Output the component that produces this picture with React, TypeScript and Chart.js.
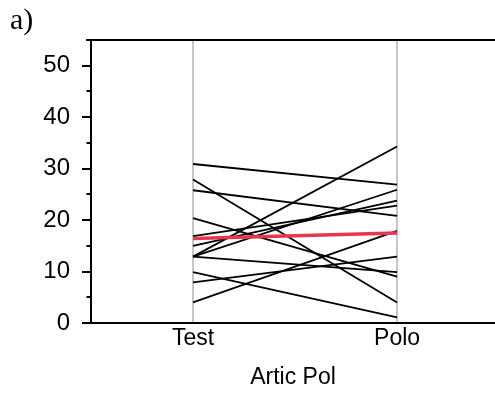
import React, { useEffect, useRef } from "react";
import { Chart, registerables } from "chart.js";

Chart.register(...registerables);

const categories = ["Test", "Polo"];
const testValues = [30.9, 27.9, 25.8, 20.4, 16.9, 15.0, 12.9, 12.9, 12.9, 9.9, 7.9, 4.0];
const poloValues = [26.9, 4.0, 20.8, 9.0, 22.8, 23.8, 25.9, 34.3, 9.9, 1.1, 12.9, 17.9];
const meanTest = 16.4;
const meanPolo = 17.5;
const yTicks = [0, 5, 10, 15, 20, 25, 30, 35, 40, 45, 50];
const axisTitle = "Artic Pol";
const panelLabel = "a)";

const FONT = "'Liberation Sans', Arial, sans-serif";

const axisDecor = {
  id: "axisDecor",
  afterDraw(chart: any) {
    const { ctx, chartArea, scales } = chart;
    const y = scales.y;
    ctx.save();
    ctx.strokeStyle = "#000";
    ctx.lineWidth = 2;
    ctx.beginPath();
    for (const v of yTicks) {
      const py = Math.round(y.getPixelForValue(v));
      const len = v % 10 === 0 ? 9 : 4.5;
      ctx.moveTo(chartArea.left - len, py);
      ctx.lineTo(chartArea.left, py);
    }
    ctx.moveTo(chartArea.left - 5, chartArea.top);
    ctx.lineTo(chartArea.right, chartArea.top);
    ctx.stroke();
    ctx.restore();
  },
};

export default function App() {
  const ref = useRef<HTMLCanvasElement>(null);
  useEffect(() => {
    if (!ref.current) return;
    const datasets: any[] = testValues.map((t, i) => ({
      data: [
        { x: 1, y: t },
        { x: 2, y: poloValues[i] },
      ],
      borderColor: "#000",
      borderWidth: 1.8,
      pointRadius: 0,
      fill: false,
    }));
    datasets.push({
      data: [
        { x: 1, y: meanTest },
        { x: 2, y: meanPolo },
      ],
      borderColor: "#e8364c",
      borderWidth: 3.5,
      pointRadius: 0,
      fill: false,
      order: -1,
    });
    const chart = new Chart(ref.current, {
      type: "line",
      data: { datasets },
      plugins: [axisDecor],
      options: {
        animation: false,
        responsive: false,
        layout: { padding: { top: 40, left: 0, right: 0, bottom: 0 } },
        plugins: { legend: { display: false }, tooltip: { enabled: false } },
        scales: {
          x: {
            type: "linear",
            min: 0.5,
            max: 2.48,
            afterBuildTicks: (s: any) => {
              s.ticks = [{ value: 1 }, { value: 2 }];
            },
            afterFit: (s: any) => {
              s.height = 70;
            },
            ticks: {
              callback: (v: any) => categories[Number(v) - 1] ?? "",
              color: "#000",
              font: { family: FONT, size: 23 },
              padding: 2,
              maxRotation: 0,
              autoSkip: false,
            },
            grid: {
              color: "#c6c6c6",
              lineWidth: 2,
              drawTicks: false,
            },
            border: { color: "#000", width: 2 },
            title: {
              display: true,
              text: axisTitle,
              color: "#000",
              font: { family: FONT, size: 23 },
              padding: { top: 0, bottom: 2 },
            },
          },
          y: {
            type: "linear",
            min: 0,
            max: 55,
            afterBuildTicks: (s: any) => {
              s.ticks = yTicks.map((v) => ({ value: v }));
            },
            afterFit: (s: any) => {
              s.width = 91;
            },
            ticks: {
              callback: (v: any) => (Number(v) % 10 === 0 ? String(v) : ""),
              color: "#000",
              font: { family: FONT, size: 24 },
              padding: 21,
              autoSkip: false,
            },
            grid: { display: false, drawTicks: false },
            border: { color: "#000", width: 2 },
          },
        },
      },
    });
    return () => chart.destroy();
  }, []);
  return (
    <div style={{ position: "fixed", left: 0, top: 0, width: 495, height: 393, background: "#fff" }}>
      <canvas ref={ref} width={495} height={393} style={{ display: "block" }} />
      <div
        style={{
          position: "absolute",
          left: 10,
          top: 3,
          fontFamily: "'Liberation Serif', 'Times New Roman', serif",
          fontSize: 30,
          lineHeight: "32px",
          color: "#000",
        }}
      >
        {panelLabel}
      </div>
    </div>
  );
}
